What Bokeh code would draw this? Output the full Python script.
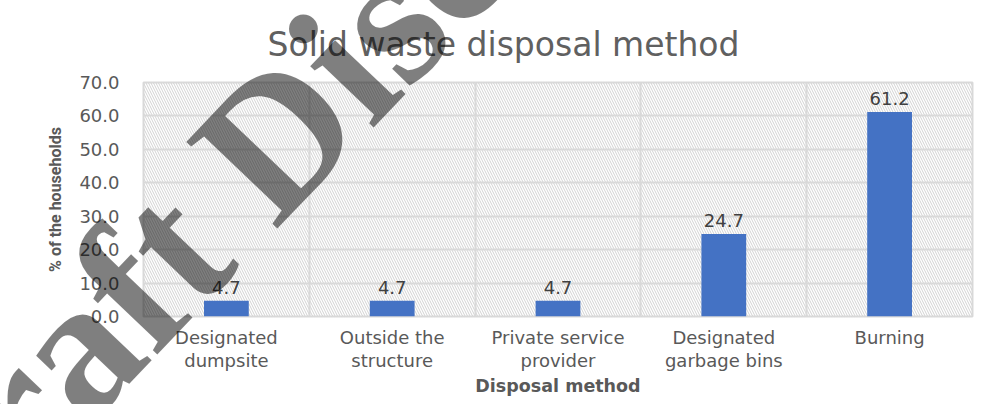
from bokeh.plotting import figure
from bokeh.models import (ColumnDataSource, FixedTicker, PrintfTickFormatter,
                          BoxAnnotation, Grid)
from bokeh.core.properties import value
from bokeh.embed import file_html
from bokeh.resources import INLINE

# ---- data ----
categories = ["Designated\ndumpsite", "Outside the\nstructure", "Private service\nprovider",
              "Designated\ngarbage bins", "Burning"]
percent = [4.7, 4.7, 4.7, 24.7, 61.2]
y_ticks = [0, 10, 20, 30, 40, 50, 60, 70]
title_text = "Solid waste disposal method"
x_title = "Disposal method"
y_title = "% of the households"
watermark = ["Draft Discussion"]

xpos = [i + 0.5 for i in range(len(categories))]
src = ColumnDataSource(dict(x=xpos, top=percent, lab=[f"{v:.1f}" for v in percent]))

p = figure(width=978, height=404, x_range=(0, len(categories)), y_range=(0, 70),
           output_backend="svg", toolbar_location=None,
           min_border_left=143, min_border_right=6, min_border_top=82, min_border_bottom=88)
p.background_fill_color = "white"
p.border_fill_color = "white"
p.outline_line_color = "#d9d9d9"
p.outline_line_width = 2

# title
p.title.text = title_text
p.title.align = "left"
p.title.offset = 124
p.title.standoff = 38
p.title.text_font = "DejaVu Sans"
p.title.text_font_size = "33px"
p.title.text_font_style = "normal"
p.title.text_color = "#606060"

# hatched plot area
hatch = BoxAnnotation(fill_alpha=0, line_alpha=0, hatch_pattern="left_diagonal_line",
                      hatch_color="#d2d2d2", hatch_scale=5, hatch_weight=1, level="image")
p.add_layout(hatch)

# grids
p.xgrid.visible = False
p.ygrid.grid_line_color = "#d9d9d9"
p.ygrid.grid_line_width = 2
p.ygrid.ticker = FixedTicker(ticks=y_ticks)
vgrid = Grid(dimension=0, ticker=FixedTicker(ticks=list(range(len(categories) + 1))),
             grid_line_color="#d9d9d9", grid_line_width=2)
p.add_layout(vgrid)

# bars
p.vbar(x="x", top="top", width=0.27, bottom=0, source=src, color="#4472C4", line_color=None)
p.text(x="x", y="top", text="lab", source=src, y_offset=-13, text_align="center",
       text_baseline="alphabetic", text_font=value("DejaVu Sans"), text_font_size="18px",
       text_color="#404040")

# axes
p.xaxis.ticker = FixedTicker(ticks=xpos)
p.xaxis.major_label_overrides = {x: c for x, c in zip(xpos, categories)}
p.yaxis.ticker = FixedTicker(ticks=y_ticks)
p.yaxis.formatter = PrintfTickFormatter(format="%.1f")
for ax in (p.xaxis, p.yaxis):
    ax.axis_line_color = None
    ax.major_tick_line_color = None
    ax.minor_tick_line_color = None
    ax.major_label_text_font = "DejaVu Sans"
    ax.major_label_text_font_size = "18px"
    ax.major_label_text_color = "#595959"
    ax.axis_label_text_font_style = "bold"
    ax.axis_label_text_color = "#595959"
p.xaxis.major_label_text_line_height = 1.1
p.xaxis.major_label_standoff = 4
p.yaxis.major_label_standoff = 18
p.xaxis.axis_label = x_title
p.xaxis.axis_label_text_font = "DejaVu Sans"
p.xaxis.axis_label_text_font_size = "17.5px"
p.xaxis.axis_label_standoff = 2
p.yaxis.axis_label = y_title
p.yaxis.axis_label_text_font = "Roboto"
p.yaxis.axis_label_text_font_size = "16px"
p.yaxis.axis_label_standoff = 11

# watermark as an overlay-level text glyph (not clipped to the plot area)
p.text(x=[-1.55], y=[-68.5], text=watermark, angle=0.81, text_align="left",
       text_baseline="alphabetic", text_font=value("Liberation Serif"),
       text_font_style="bold", text_font_size="192px",
       text_color="black", text_alpha=0.5, level="overlay")

open("out.html", "w").write(file_html(p, INLINE))
